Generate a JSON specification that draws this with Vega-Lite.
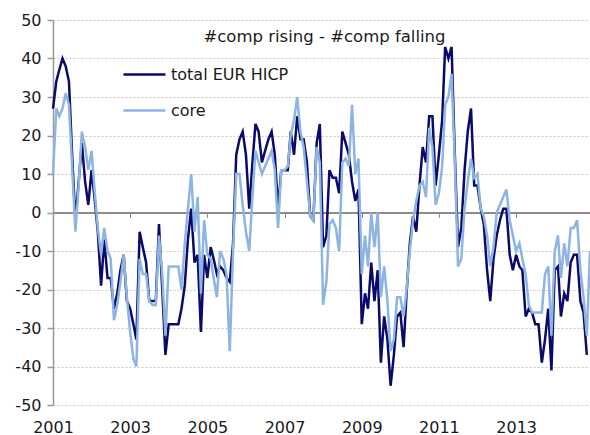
{
"$schema":"https://vega.github.io/schema/vega-lite/v6.json",
"width":537,"height":385,
"autosize":{"type":"none"},
"padding":{"left":53,"top":20,"right":0,"bottom":30},
"background":"white",
"config":{"font":"DejaVu Sans","view":{"stroke":null}},
"title":{"text":"#comp rising - #comp falling","fontSize":16.5,"fontWeight":"normal","color":"#1a1a1a","anchor":"middle","baseline":"alphabetic","offset":-46.5,"dx":3},
"data":{"values":[
{"d":"2001/01/01","t":27,"c":10},{"d":"2001/02/01","t":34,"c":27},{"d":"2001/03/01","t":37,"c":25},{"d":"2001/04/01","t":40,"c":27},{"d":"2001/05/01","t":38,"c":31},{"d":"2001/06/01","t":34,"c":28},{"d":"2001/07/01","t":15,"c":12},{"d":"2001/08/01","t":-2,"c":-5},{"d":"2001/09/01","t":8,"c":7},{"d":"2001/10/01","t":18,"c":21},{"d":"2001/11/01","t":8,"c":17},{"d":"2001/12/01","t":2,"c":11},
{"d":"2002/01/01","t":11,"c":16},{"d":"2002/02/01","t":3,"c":5},{"d":"2002/03/01","t":-5,"c":-4},{"d":"2002/04/01","t":-19,"c":-11},{"d":"2002/05/01","t":-7,"c":-4},{"d":"2002/06/01","t":-17,"c":-10},{"d":"2002/07/01","t":-17,"c":-12},{"d":"2002/08/01","t":-25,"c":-28},{"d":"2002/09/01","t":-21,"c":-24},{"d":"2002/10/01","t":-15,"c":-18},{"d":"2002/11/01","t":-11,"c":-11},{"d":"2002/12/01","t":-23,"c":-22},
{"d":"2003/01/01","t":-25,"c":-31},{"d":"2003/02/01","t":-29,"c":-38},{"d":"2003/03/01","t":-33,"c":-40},{"d":"2003/04/01","t":-5,"c":-12},{"d":"2003/05/01","t":-9,"c":-16},{"d":"2003/06/01","t":-13,"c":-16},{"d":"2003/07/01","t":-23,"c":-23},{"d":"2003/08/01","t":-23,"c":-24},{"d":"2003/09/01","t":-23,"c":-24},{"d":"2003/10/01","t":-3,"c":-6},{"d":"2003/11/01","t":-20,"c":-16},{"d":"2003/12/01","t":-37,"c":-32},
{"d":"2004/01/01","t":-29,"c":-14},{"d":"2004/02/01","t":-29,"c":-14},{"d":"2004/03/01","t":-29,"c":-14},{"d":"2004/04/01","t":-29,"c":-14},{"d":"2004/05/01","t":-25,"c":-20},{"d":"2004/06/01","t":-19,"c":-8},{"d":"2004/07/01","t":-7,"c":1},{"d":"2004/08/01","t":1,"c":10},{"d":"2004/09/01","t":-13,"c":-5},{"d":"2004/10/01","t":-11,"c":4},{"d":"2004/11/01","t":-31,"c":-21},{"d":"2004/12/01","t":-11,"c":-2},
{"d":"2005/01/01","t":-17,"c":-11},{"d":"2005/02/01","t":-9,"c":-12},{"d":"2005/03/01","t":-12,"c":-17},{"d":"2005/04/01","t":-16,"c":-22},{"d":"2005/05/01","t":-14,"c":-10},{"d":"2005/06/01","t":-15,"c":-12},{"d":"2005/07/01","t":-17,"c":-16},{"d":"2005/08/01","t":-18,"c":-36},{"d":"2005/09/01","t":-8,"c":-10},{"d":"2005/10/01","t":15,"c":10},{"d":"2005/11/01","t":19,"c":10},{"d":"2005/12/01","t":21,"c":2},
{"d":"2006/01/01","t":15,"c":-5},{"d":"2006/02/01","t":1,"c":-10},{"d":"2006/03/01","t":12,"c":3},{"d":"2006/04/01","t":23,"c":16},{"d":"2006/05/01","t":21,"c":13},{"d":"2006/06/01","t":13,"c":10},{"d":"2006/07/01","t":16,"c":12},{"d":"2006/08/01","t":19,"c":14},{"d":"2006/09/01","t":21,"c":16},{"d":"2006/10/01","t":15,"c":11},{"d":"2006/11/01","t":1,"c":-4},{"d":"2006/12/01","t":11,"c":11},
{"d":"2007/01/01","t":11,"c":11},{"d":"2007/02/01","t":11,"c":12},{"d":"2007/03/01","t":21,"c":20},{"d":"2007/04/01","t":15,"c":24},{"d":"2007/05/01","t":25,"c":30},{"d":"2007/06/01","t":19,"c":21},{"d":"2007/07/01","t":19,"c":17},{"d":"2007/08/01","t":13,"c":8},{"d":"2007/09/01","t":-1,"c":-1},{"d":"2007/10/01","t":-2,"c":-2},{"d":"2007/11/01","t":18,"c":17},{"d":"2007/12/01","t":23,"c":13},
{"d":"2008/01/01","t":-9,"c":-24},{"d":"2008/02/01","t":-6,"c":-18},{"d":"2008/03/01","t":11,"c":-3},{"d":"2008/04/01","t":9,"c":-2},{"d":"2008/05/01","t":9,"c":-4},{"d":"2008/06/01","t":5,"c":-10},{"d":"2008/07/01","t":21,"c":13},{"d":"2008/08/01","t":18,"c":14},{"d":"2008/09/01","t":15,"c":12},{"d":"2008/10/01","t":8,"c":28},{"d":"2008/11/01","t":3,"c":10},{"d":"2008/12/01","t":6,"c":14},
{"d":"2009/01/01","t":-29,"c":-16},{"d":"2009/02/01","t":-21,"c":-6},{"d":"2009/03/01","t":-25,"c":-14},{"d":"2009/04/01","t":-13,"c":0},{"d":"2009/05/01","t":-23,"c":-9},{"d":"2009/06/01","t":-15,"c":0},{"d":"2009/07/01","t":-39,"c":-22},{"d":"2009/08/01","t":-27,"c":-14},{"d":"2009/09/01","t":-33,"c":-23},{"d":"2009/10/01","t":-45,"c":-36},{"d":"2009/11/01","t":-37,"c":-33},{"d":"2009/12/01","t":-27,"c":-22},
{"d":"2010/01/01","t":-26,"c":-22},{"d":"2010/02/01","t":-35,"c":-27},{"d":"2010/03/01","t":-21,"c":-20},{"d":"2010/04/01","t":-8,"c":-10},{"d":"2010/05/01","t":-1,"c":-2},{"d":"2010/06/01","t":-5,"c":3},{"d":"2010/07/01","t":7,"c":7},{"d":"2010/08/01","t":17,"c":8},{"d":"2010/09/01","t":13,"c":4},{"d":"2010/10/01","t":25,"c":22},{"d":"2010/11/01","t":25,"c":17},{"d":"2010/12/01","t":7,"c":2},
{"d":"2011/01/01","t":15,"c":5},{"d":"2011/02/01","t":24,"c":12},{"d":"2011/03/01","t":43,"c":28},{"d":"2011/04/01","t":40,"c":30},{"d":"2011/05/01","t":43,"c":36},{"d":"2011/06/01","t":15,"c":13},{"d":"2011/07/01","t":-9,"c":-14},{"d":"2011/08/01","t":-4,"c":-12},{"d":"2011/09/01","t":11,"c":1},{"d":"2011/10/01","t":21,"c":8},{"d":"2011/11/01","t":27,"c":14},{"d":"2011/12/01","t":7,"c":9},
{"d":"2012/01/01","t":7,"c":10},{"d":"2012/02/01","t":1,"c":1},{"d":"2012/03/01","t":-3,"c":-1},{"d":"2012/04/01","t":-15,"c":-6},{"d":"2012/05/01","t":-23,"c":-14},{"d":"2012/06/01","t":-12,"c":-9},{"d":"2012/07/01","t":-6,"c":0},{"d":"2012/08/01","t":-2,"c":2},{"d":"2012/09/01","t":1,"c":4},{"d":"2012/10/01","t":1,"c":6},{"d":"2012/11/01","t":-11,"c":-2},{"d":"2012/12/01","t":-15,"c":-6},
{"d":"2013/01/01","t":-11,"c":-10},{"d":"2013/02/01","t":-14,"c":-8},{"d":"2013/03/01","t":-15,"c":-12},{"d":"2013/04/01","t":-27,"c":-16},{"d":"2013/05/01","t":-25,"c":-24},{"d":"2013/06/01","t":-26,"c":-26},{"d":"2013/07/01","t":-29,"c":-26},{"d":"2013/08/01","t":-29,"c":-26},{"d":"2013/09/01","t":-39,"c":-26},{"d":"2013/10/01","t":-33,"c":-16},{"d":"2013/11/01","t":-25,"c":-14},{"d":"2013/12/01","t":-41,"c":-32},
{"d":"2014/01/01","t":-15,"c":-10},{"d":"2014/02/01","t":-14,"c":-6},{"d":"2014/03/01","t":-27,"c":-17},{"d":"2014/04/01","t":-21,"c":-8},{"d":"2014/05/01","t":-23,"c":-14},{"d":"2014/06/01","t":-13,"c":-4},{"d":"2014/07/01","t":-11,"c":-4},{"d":"2014/08/01","t":-11,"c":-2},{"d":"2014/09/01","t":-23,"c":-15},{"d":"2014/10/01","t":-26,"c":-22},{"d":"2014/11/01","t":-37,"c":-32},{"d":"2014/12/01","c":-10}
]},
"transform":[{"fold":["t","c"],"as":["series","value"]}],
"mark":{"type":"line","strokeWidth":2.5},
"encoding":{
"x":{"field":"d","type":"temporal",
 "scale":{"domain":[{"year":2001,"month":1,"date":1},{"year":2014,"month":12,"date":1}]},
 "axis":{"values":[{"year":2001,"month":1,"date":1},{"year":2003,"month":1,"date":1},{"year":2005,"month":1,"date":1},{"year":2007,"month":1,"date":1},{"year":2009,"month":1,"date":1},{"year":2011,"month":1,"date":1},{"year":2013,"month":1,"date":1}],
  "format":"%Y","title":null,"grid":false,"offset":-192.5,"domainColor":"#8c8c8c","domainWidth":2,"tickColor":"#8c8c8c","tickSize":5,"tickWidth":1,
  "labelPadding":201.5,"labelFontSize":16,"labelColor":"#1a1a1a","labelFlush":false,"labelOverlap":false}},
"y":{"field":"value","type":"quantitative",
 "scale":{"domain":[-50,50],"nice":false},
 "axis":{"values":[-50,-40,-30,-20,-10,0,10,20,30,40,50],"title":null,"grid":true,"gridColor":"#c8c8c8","gridDash":[2,2],"gridWidth":1,
  "domainColor":"#999999","domainWidth":1.5,"tickColor":"#999999","tickSize":6,"tickWidth":1.5,
  "labelFontSize":16,"labelColor":"#1a1a1a","labelPadding":6,"labelExpr":"'' + datum.value"}},
"color":{"field":"series","type":"nominal",
 "scale":{"domain":["t","c"],"range":["#0a0a6b","#8db4e2"]},
 "legend":{"orient":"none","legendX":79.5,"legendY":42.5,"title":null,"symbolType":"M-2,0H2","symbolSize":441,"symbolStrokeWidth":2.5,
  "labelFontSize":16,"labelColor":"#1a1a1a","labelOffset":14.5,"rowPadding":16,"padding":0,
  "labelExpr":"datum.value == 't' ? 'total EUR HICP' : 'core'"}}
}
}
